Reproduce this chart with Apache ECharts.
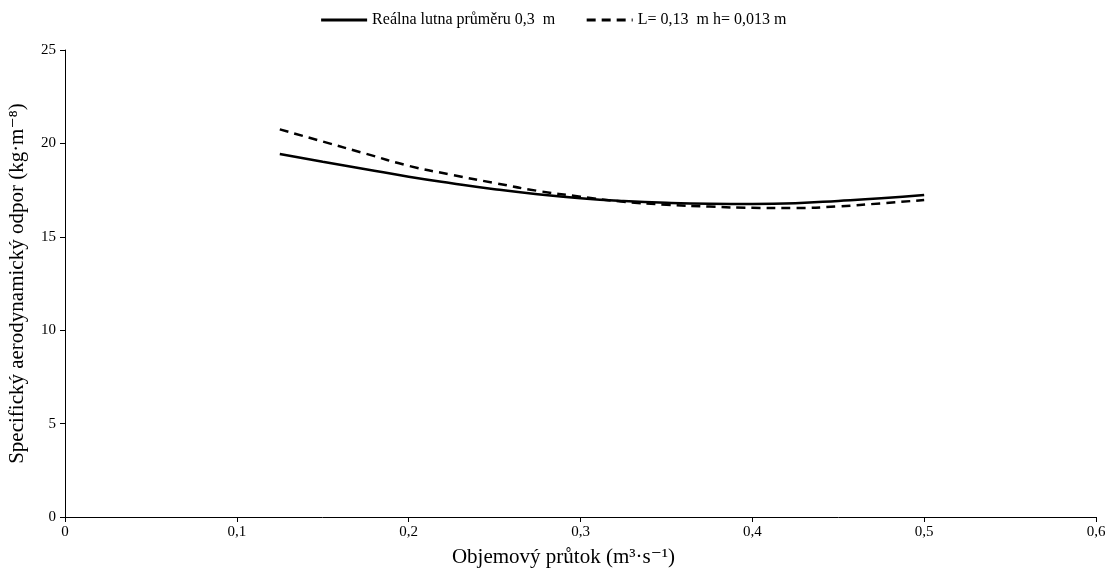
<!DOCTYPE html>
<html>
<head>
<meta charset="utf-8">
<script src="https://cdn.jsdelivr.net/npm/echarts@6/dist/echarts.min.js"></script>
<style>
  html, body { margin: 0; padding: 0; background: #fff; }
  #chart { width: 1106px; height: 569px; }
</style>
</head>
<body>
<div id="chart"></div>
<script>
// průtok (m3/s)
const flowValues = [0.125, 0.15, 0.175, 0.2, 0.225, 0.25, 0.275, 0.3, 0.325, 0.35, 0.375, 0.4, 0.425, 0.45, 0.475, 0.5]
// reálná lutna
const realValues = [19.43, 19.02, 18.62, 18.22, 17.87, 17.55, 17.28, 17.07, 16.92, 16.82, 16.77, 16.76, 16.8, 16.92, 17.06, 17.24]
// L = 0,13 m, h = 0,013 m
const modelValues = [20.75, 20.1, 19.45, 18.8, 18.32, 17.88, 17.46, 17.15, 16.88, 16.72, 16.62, 16.55, 16.54, 16.63, 16.79, 16.97]
const seriesNames = ['Reálna lutna průměru 0,3  m', 'L= 0,13  m h= 0,013 m']

const font = '"Liberation Serif", "DejaVu Serif", serif'
const comma = (v) => (v === 0 ? '0' : v.toFixed(1).replace('.', ','))

const chart = echarts.init(document.getElementById('chart'))
chart.setOption({
  animation: false,
  textStyle: { fontFamily: font, color: '#000' },
  legend: {
    top: 7,
    left: 'center',
    itemWidth: 46,
    itemHeight: 10,
    itemGap: 30,
    itemStyle: { opacity: 0 },
    lineStyle: { width: 3 },
    textStyle: { fontFamily: font, fontSize: 16, color: '#000' },
    data: seriesNames
  },
  grid: { left: 65, right: 10, top: 50, bottom: 52, outerBoundsMode: 'none' },
  xAxis: {
    type: 'value',
    min: 0,
    max: 0.6,
    interval: 0.1,
    name: 'Objemový průtok (m³·s⁻¹)',
    nameLocation: 'middle',
    nameGap: 30,
    nameTextStyle: { fontFamily: font, fontSize: 21, color: '#000', padding: [0, 34, 0, 0] },
    axisLine: { lineStyle: { color: '#000', width: 1 } },
    axisTick: { show: true, length: 5, lineStyle: { color: '#000' } },
    axisLabel: { fontFamily: font, fontSize: 15, color: '#000', margin: 8, formatter: comma },
    splitLine: { show: false }
  },
  yAxis: {
    type: 'value',
    min: 0,
    max: 25,
    interval: 5,
    name: 'Specifický aerodynamický odpor (kg·m⁻⁸)',
    nameLocation: 'middle',
    nameGap: 37,
    nameTextStyle: { fontFamily: font, fontSize: 21, color: '#000' },
    axisLine: { show: true, lineStyle: { color: '#000', width: 1 } },
    axisTick: { show: true, length: 5, lineStyle: { color: '#000' } },
    axisLabel: { fontFamily: font, fontSize: 15, color: '#000', margin: 9 },
    splitLine: { show: false }
  },
  series: [
    {
      name: seriesNames[0],
      type: 'line',
      smooth: true,
      symbol: 'none',
      lineStyle: { color: '#000', width: 2.5 },
      itemStyle: { color: '#000' },
      data: flowValues.map((x, i) => [x, realValues[i]])
    },
    {
      name: seriesNames[1],
      type: 'line',
      smooth: true,
      symbol: 'none',
      lineStyle: { color: '#000', width: 2.5, type: [9, 6] },
      itemStyle: { color: '#000' },
      data: flowValues.map((x, i) => [x, modelValues[i]])
    }
  ]
})
</script>
</body>
</html>
